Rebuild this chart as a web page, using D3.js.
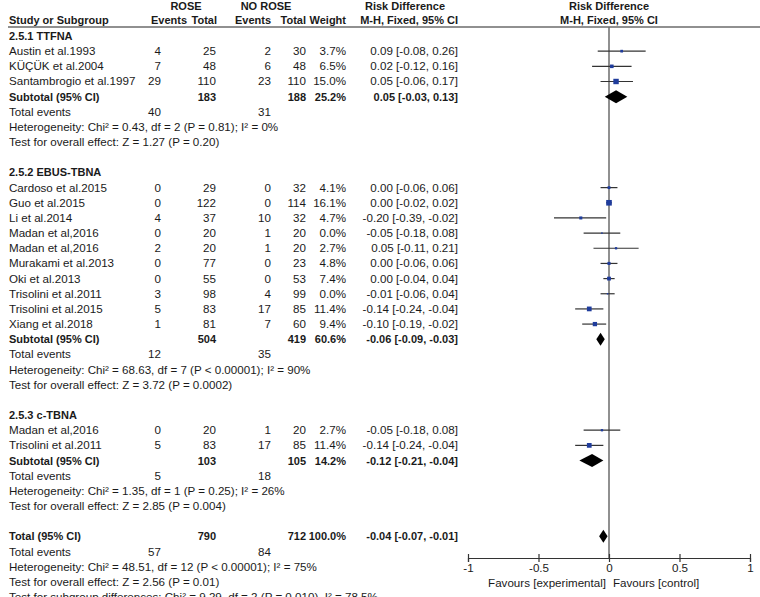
<!DOCTYPE html>
<html>
<head>
<meta charset="utf-8">
<script src="https://cdn.jsdelivr.net/npm/d3@7"></script>
<style>
  body { margin: 0; background: #fff; }
  text { font-family: "Liberation Sans", Arial, sans-serif; font-size: 11.6px; fill: #1a1a1a; }
  text.bold { font-weight: bold; font-size: 11px; }
</style>
</head>
<body>
<div id="forest"></div>
<script>
// Chart size
var svgWidth = 760;
var svgHeight = 597;

// Subgroups
var groupNames = ["2.5.1 TTFNA", "2.5.2 EBUS-TBNA", "2.5.3 c-TBNA"];

// Individual studies
var studyNames = [
  "Austin et al.1993", "KÜÇÜK et al.2004", "Santambrogio et al.1997",
  "Cardoso et al.2015", "Guo et al.2015", "Li et al.2014", "Madan et al,2016", "Madan et al,2016",
  "Murakami et al.2013", "Oki et al.2013", "Trisolini et al.2011", "Trisolini et al.2015", "Xiang et al.2018",
  "Madan et al,2016", "Trisolini et al.2011"
];
var studyGroup   = [0, 0, 0, 1, 1, 1, 1, 1, 1, 1, 1, 1, 1, 2, 2];
var roseEvents   = [4, 7, 29, 0, 0, 4, 0, 2, 0, 0, 3, 5, 1, 0, 5];
var roseTotal    = [25, 48, 110, 29, 122, 37, 20, 20, 77, 55, 98, 83, 81, 20, 83];
var noRoseEvents = [2, 6, 23, 0, 0, 10, 1, 1, 0, 0, 4, 17, 7, 1, 17];
var noRoseTotal  = [30, 48, 110, 32, 114, 32, 20, 20, 23, 53, 99, 85, 60, 20, 85];
var weights      = [3.7, 6.5, 15.0, 4.1, 16.1, 4.7, 0.0, 2.7, 4.8, 7.4, 0.0, 11.4, 9.4, 2.7, 11.4];
var riskDiff     = [0.09, 0.02, 0.05, 0.00, 0.00, -0.20, -0.05, 0.05, 0.00, 0.00, -0.01, -0.14, -0.10, -0.05, -0.14];
var ciLow        = [-0.08, -0.12, -0.06, -0.06, -0.02, -0.39, -0.18, -0.11, -0.06, -0.04, -0.06, -0.24, -0.19, -0.18, -0.24];
var ciHigh       = [0.26, 0.16, 0.17, 0.06, 0.02, -0.02, 0.08, 0.21, 0.06, 0.04, 0.04, -0.04, -0.02, 0.08, -0.04];

// Subtotals per subgroup
var subRoseTotal    = [183, 504, 103];
var subNoRoseTotal  = [188, 419, 105];
var subWeight       = [25.2, 60.6, 14.2];
var subRiskDiff     = [0.05, -0.06, -0.12];
var subLow          = [-0.03, -0.09, -0.21];
var subHigh         = [0.13, -0.03, -0.04];
var subRoseEvents   = [40, 12, 5];
var subNoRoseEvents = [31, 35, 18];
var subHeterogeneity = [
  "Heterogeneity: Chi² = 0.43, df = 2 (P = 0.81); I² = 0%",
  "Heterogeneity: Chi² = 68.63, df = 7 (P < 0.00001); I² = 90%",
  "Heterogeneity: Chi² = 1.35, df = 1 (P = 0.25); I² = 26%"
];
var subOverall = [
  "Test for overall effect: Z = 1.27 (P = 0.20)",
  "Test for overall effect: Z = 3.72 (P = 0.0002)",
  "Test for overall effect: Z = 2.85 (P = 0.004)"
];

// Overall pooled result
var totalRose = 790, totalNoRose = 712, totalWeight = 100.0;
var totalRiskDiff = -0.04, totalLow = -0.07, totalHigh = -0.01;
var totalRoseEvents = 57, totalNoRoseEvents = 84;
var totalFooter = [
  "Heterogeneity: Chi² = 48.51, df = 12 (P < 0.00001); I² = 75%",
  "Test for overall effect: Z = 2.56 (P = 0.01)",
  "Test for subgroup differences: Chi² = 9.29, df = 2 (P = 0.010), I² = 78.5%"
];

// Axis ticks
var axisTicks = [-1, -0.5, 0, 0.5, 1];
var axisTickLabels = ["-1", "-0.5", "0", "0.5", "1"];

// Format helpers (plain hyphen instead of the unicode minus)
function f2(v) { return d3.format(".2f")(v).replace("\u2212", "-"); }
function ciText(m, lo, hi) {
  return f2(m) + " [" + f2(lo) + ", " + f2(hi) + "]";
}
function pct(w) { return d3.format(".1f")(w) + "%"; }

// Build the row list
var rows = [];
groupNames.forEach(function(g, gi) {
  rows.push({type: "group", label: g});
  studyNames.forEach(function(name, i) {
    if (studyGroup[i] !== gi) return;
    rows.push({type: "study", label: name, e1: roseEvents[i], t1: roseTotal[i], e2: noRoseEvents[i],
      t2: noRoseTotal[i], w: weights[i], m: riskDiff[i], lo: ciLow[i], hi: ciHigh[i]});
  });
  rows.push({type: "sub", label: "Subtotal (95% CI)", t1: subRoseTotal[gi], t2: subNoRoseTotal[gi],
    w: subWeight[gi], m: subRiskDiff[gi], lo: subLow[gi], hi: subHigh[gi]});
  rows.push({type: "events", label: "Total events", e1: subRoseEvents[gi], e2: subNoRoseEvents[gi]});
  rows.push({type: "note", label: subHeterogeneity[gi]});
  rows.push({type: "note", label: subOverall[gi]});
  rows.push({type: "blank"});
});
rows.push({type: "sub", label: "Total (95% CI)", t1: totalRose, t2: totalNoRose, w: totalWeight,
  m: totalRiskDiff, lo: totalLow, hi: totalHigh});
rows.push({type: "events", label: "Total events", e1: totalRoseEvents, e2: totalNoRoseEvents});
totalFooter.forEach(function(t) { rows.push({type: "note", label: t}); });

// Vertical row positions
var rowY = d3.scaleLinear().domain([0, 37]).range([36, 597]);

// Column positions (right edges for numbers)
var col = {label: 9, e1: 161, t1: 216, e2: 271, t2: 306, w: 346, ci: 458};

// Plot scale
var x = d3.scaleLinear().domain([-1, 1]).range([468, 750]);
var axisY = 558;

var svg = d3.select("#forest")
  .append("svg")
  .attr("width", svgWidth)
  .attr("height", svgHeight);

// Header text, first line
var header1 = [
  {x: 186, t: "ROSE"},
  {x: 266, t: "NO ROSE"},
  {x: 405, t: "Risk Difference"},
  {x: 609, t: "Risk Difference"}
];
svg.selectAll(".h1")
  .data(header1)
  .enter()
  .append("text")
  .attr("class", "bold")
  .attr("x", d => d.x)
  .attr("y", 10)
  .attr("text-anchor", "middle")
  .text(d => d.t);

// Header text, second line
var header2 = [
  {x: col.label, a: "start", t: "Study or Subgroup"},
  {x: 187, a: "end", t: "Events"},
  {x: 217, a: "end", t: "Total"},
  {x: col.e2, a: "end", t: "Events"},
  {x: col.t2, a: "end", t: "Total"},
  {x: col.w, a: "end", t: "Weight"},
  {x: col.ci, a: "end", t: "M-H, Fixed, 95% CI"},
  {x: 609, a: "middle", t: "M-H, Fixed, 95% CI"}
];
svg.selectAll(".h2")
  .data(header2)
  .enter()
  .append("text")
  .attr("class", "bold")
  .attr("x", d => d.x)
  .attr("y", 24)
  .attr("text-anchor", d => d.a)
  .text(d => d.t);

// Header rule
svg.append("line")
  .attr("x1", 8).attr("x2", 760)
  .attr("y1", 27).attr("y2", 27)
  .attr("stroke", "#6b6b6b")
  .attr("stroke-width", 1.5);

// Line of no effect
svg.append("line")
  .attr("x1", x(0)).attr("x2", x(0))
  .attr("y1", 27).attr("y2", axisY)
  .attr("stroke", "#6b6b6b")
  .attr("stroke-width", 1.5);

// Bottom axis
var bottomAxis = d3.axisBottom(x)
  .tickValues(axisTicks)
  .tickFormat((d, i) => axisTickLabels[i])
  .tickSize(4)
  .tickPadding(2);

var xAxis = svg.append("g")
  .attr("transform", `translate(0, ${axisY})`)
  .call(bottomAxis);
xAxis.select(".domain").attr("stroke", "#333").attr("stroke-width", 1.2);
xAxis.selectAll(".tick line").attr("y1", -4).attr("stroke", "#333").attr("stroke-width", 1.2);
xAxis.selectAll(".tick text")
  .style("font-family", '"Liberation Sans", Arial, sans-serif')
  .style("font-size", "11.6px")
  .attr("fill", "#1a1a1a");

svg.append("text").attr("x", x(0) - 3).attr("y", axisY + 29).attr("text-anchor", "end").text("Favours [experimental]");
svg.append("text").attr("x", x(0) + 4).attr("y", axisY + 29).attr("text-anchor", "start").text("Favours [control]");

// Rows
var rowGroup = svg.append("g").attr("class", "rows");
rows.forEach(function(r, i) {
  var y = rowY(i);
  var ty = y + 4;
  if (r.type === "blank") return;
  var bold = (r.type === "group" || r.type === "sub");
  var g = rowGroup.append("g");
  g.append("text").attr("x", col.label).attr("y", ty).classed("bold", bold).text(r.label);

  function num(key, val) {
    g.append("text").attr("x", col[key]).attr("y", ty).attr("text-anchor", "end").classed("bold", bold).text(val);
  }
  if (r.type === "study") {
    num("e1", r.e1); num("t1", r.t1); num("e2", r.e2); num("t2", r.t2);
    num("w", pct(r.w)); num("ci", ciText(r.m, r.lo, r.hi));
    g.append("line")
      .attr("x1", x(r.lo)).attr("x2", x(r.hi))
      .attr("y1", y).attr("y2", y)
      .attr("stroke", "#333").attr("stroke-width", 1.2);
    var s = Math.max(1.5, 1.4 * Math.sqrt(r.w));
    g.append("rect")
      .attr("x", x(r.m) - s / 2).attr("y", y - s / 2)
      .attr("width", s).attr("height", s)
      .attr("fill", "#1f3c9c");
  } else if (r.type === "sub") {
    num("t1", r.t1); num("t2", r.t2);
    num("w", pct(r.w)); num("ci", ciText(r.m, r.lo, r.hi));
    var h = 6.5;
    g.append("path")
      .attr("d", `M${x(r.lo)},${y} L${x(r.m)},${y - h} L${x(r.hi)},${y} L${x(r.m)},${y + h} Z`)
      .attr("fill", "#000");
  } else if (r.type === "events") {
    num("e1", r.e1); num("e2", r.e2);
  }
});
</script>
</body>
</html>
